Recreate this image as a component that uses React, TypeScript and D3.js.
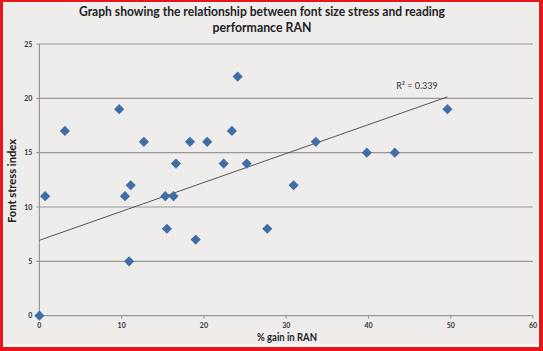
import React from "react";
import * as d3 from "d3";

const gainRAN = [0, 0.7, 3.1, 9.7, 10.4, 10.9, 11.1, 12.7, 15.3, 15.5, 16.3, 16.6, 18.3, 19.0, 20.4, 22.4, 23.4, 24.1, 25.2, 27.7, 30.9, 33.6, 39.8, 43.2, 49.6];
const stressIndex = [0, 11, 17, 19, 11, 5, 12, 16, 11, 8, 11, 14, 16, 7, 16, 14, 17, 22, 14, 8, 12, 16, 15, 15, 19];
const xTicks = [0, 10, 20, 30, 40, 50, 60];
const yTicks = [0, 5, 10, 15, 20, 25];
const trendIntercept = 6.94;
const trendSlope = 0.266;
const r2Label = "R² = 0.339";

const W = 543, H = 351;

export default function App() {
  const x = d3.scaleLinear().domain([0, 60]).range([39.4, 533]);
  const y = d3.scaleLinear().domain([0, 25]).range([315.7, 44]);
  const xMax = d3.max(gainRAN) as number;
  const line = d3.line<number>().x((d) => x(d)).y((d) => y(trendIntercept + trendSlope * d));
  const diamond = d3.symbol().type(d3.symbolDiamond2).size(66)();
  const font = "Lato, 'Open Sans', sans-serif";
  return (
    <svg width={W} height={H} style={{ position: "absolute", left: 0, top: 0 }} fontFamily={font}>
      <rect x={0} y={0} width={W} height={H} fill="#e8151b" />
      <rect x={3} y={2} width={536} height={345} fill="#f7f4f3" />
      <rect x={4} y={3} width={534} height={341} fill="#eeedec" />
      <text x={262} y={16} textAnchor="middle" fontWeight="bold" fontSize={12.5} fill="#222" textLength={366} lengthAdjust="spacingAndGlyphs">
        Graph showing the relationship between font size stress and reading
      </text>
      <text x={262} y={32} textAnchor="middle" fontWeight="bold" fontSize={12.5} fill="#222" textLength={99} lengthAdjust="spacingAndGlyphs">
        performance  RAN
      </text>
      {yTicks.map((t) => (
        <g key={"y" + t}>
          <line x1={x(0) - 3} x2={x(60)} y1={y(t)} y2={y(t)} stroke="#9a9896" strokeWidth={1.2} />
          <text x={x(0) - 7} y={y(t) + 2.5} textAnchor="end" fontSize={7} fill="#333" fontWeight="bold">{t}</text>
        </g>
      ))}
      <line x1={x(0)} x2={x(0)} y1={y(25)} y2={y(0)} stroke="#9a9896" strokeWidth={1.2} />
      {xTicks.map((t) => (
        <g key={"x" + t}>
          <line x1={x(t)} x2={x(t)} y1={y(0)} y2={y(0) + 3} stroke="#9a9896" />
          <text x={x(t)} y={y(0) + 12} textAnchor="middle" fontSize={7} fill="#333" fontWeight="bold">{t}</text>
        </g>
      ))}
      <path d={line([0, xMax]) || ""} stroke="#444" strokeWidth={0.9} fill="none" />
      <text x={417} y={89} textAnchor="middle" fontSize={9} fill="#333">{r2Label}</text>
      {gainRAN.map((g, i) => (
        <path key={i} d={diamond || ""} transform={`translate(${x(g)},${y(stressIndex[i])})`} fill="#3f6ea6" />
      ))}
      <text transform={`translate(16,181) rotate(-90)`} textAnchor="middle" fontWeight="bold" fontSize={11} fill="#222" textLength={84} lengthAdjust="spacingAndGlyphs">
        Font stress index
      </text>
      <text x={287} y={341} textAnchor="middle" fontWeight="bold" fontSize={11} fill="#222" textLength={60} lengthAdjust="spacingAndGlyphs">
        % gain in RAN
      </text>
    </svg>
  );
}
